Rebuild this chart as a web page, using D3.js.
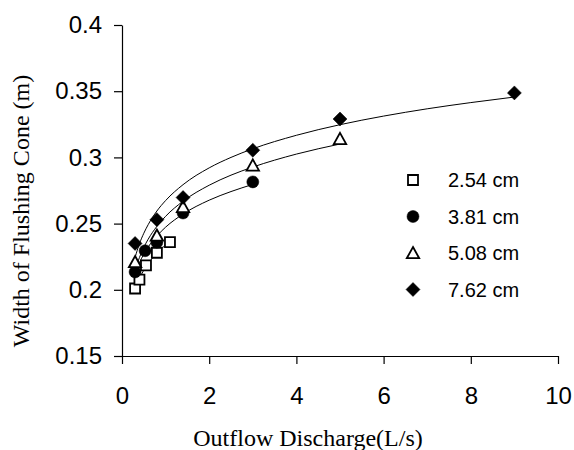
<!DOCTYPE html>
<html>
<head>
<meta charset="utf-8">
<script src="https://cdn.jsdelivr.net/npm/d3@7"></script>
<style>
  body { margin: 0; background: #fff; }
  svg { display: block; }
</style>
</head>
<body>
<svg id="svg"></svg>
<script>
// observed points, one array per tube diameter
var q254 = [0.3, 0.4, 0.55, 0.8, 1.1];
var w254 = [0.201, 0.2077, 0.2185, 0.228, 0.236];
var q381 = [0.3, 0.53, 0.8, 1.4, 3.0];
var w381 = [0.2135, 0.2295, 0.236, 0.258, 0.2815];
var q508 = [0.3, 0.8, 1.4, 3.0, 5.0];
var w508 = [0.221, 0.241, 0.2626, 0.294, 0.314];
var q762 = [0.3, 0.8, 1.4, 3.0, 5.0, 9.0];
var w762 = [0.235, 0.253, 0.2697, 0.3054, 0.329, 0.3487];

// trend curves
var tq254 = [0.3, 0.4, 0.5, 0.6, 0.8, 1.0, 1.1];
var tw254 = [0.2008, 0.2087, 0.2148, 0.2198, 0.2277, 0.2338, 0.2364];
var tq381 = [0.3, 0.4, 0.5, 0.6, 0.8, 1.0, 1.4, 2.0, 2.5, 3.0];
var tw381 = [0.2119, 0.2204, 0.2269, 0.2323, 0.2407, 0.2473, 0.2572, 0.2677, 0.2742, 0.2796];
var tq508 = [0.3, 0.4, 0.5, 0.6, 0.8, 1.0, 1.4, 2.0, 2.5, 3.0, 4.0, 5.0];
var tw508 = [0.2147, 0.2244, 0.232, 0.2382, 0.2479, 0.2555, 0.2669, 0.279, 0.2866, 0.2927, 0.3025, 0.3101];
var tq762 = [0.3, 0.4, 0.5, 0.6, 0.8, 1.0, 1.4, 2.0, 2.5, 3.0, 4.0, 5.0, 6.0, 7.0, 8.0, 9.0];
var tw762 = [0.2245, 0.2348, 0.2427, 0.2492, 0.2595, 0.2674, 0.2794, 0.2921, 0.300, 0.3065, 0.3167, 0.3247, 0.3312, 0.3367, 0.3414, 0.3456];

var seriesNames = ["2.54 cm", "3.81 cm", "5.08 cm", "7.62 cm"];
var xTicks = [0, 2, 4, 6, 8, 10];
var yTicks = [0.15, 0.2, 0.25, 0.3, 0.35, 0.4];

var width = 436, height = 331;
var margin = {top: 25, left: 122};

var svg = d3.select("#svg").attr("width", 574).attr("height", 450);

var xScale = d3.scaleLinear().domain([0, 10]).range([0, width]);
var yScale = d3.scaleLinear().domain([0.15, 0.4]).range([height, 0]);

var g = svg.append("g").attr("transform", `translate(${margin.left}, ${margin.top})`);

function zip(xs, ys) { return xs.map((x, i) => ({x: x, y: ys[i]})); }

var line = d3.line().x(d => xScale(d.x)).y(d => yScale(d.y)).curve(d3.curveMonotoneX);

[[tq254, tw254], [tq381, tw381], [tq508, tw508], [tq762, tw762]].forEach(t => {
    g.append("path")
        .datum(zip(t[0], t[1]))
        .attr("fill", "none")
        .attr("stroke", "#000")
        .attr("stroke-width", 1)
        .attr("d", line);
});

// marker shapes
function shapePath(kind) {
    if (kind == 0) return "M-5,-5H5V5H-5Z";
    if (kind == 1) return d3.symbol().type(d3.symbolCircle).size(Math.PI * 36)();
    if (kind == 2) return "M0,-6L6.2,5.2H-6.2Z";
    return "M0,-7L7,0L0,7L-7,0Z";
}
function styleMarker(sel, kind) {
    sel.attr("d", shapePath(kind))
        .attr("fill", (kind == 0 || kind == 2) ? "#fff" : "#000")
        .attr("stroke", "#000")
        .attr("stroke-width", (kind == 0 || kind == 2) ? 1.8 : 0.5)
        .attr("stroke-linejoin", "miter");
}

var pts = [[q254, w254], [q381, w381], [q508, w508], [q762, w762]];
pts.forEach((p, k) => {
    g.append("g").selectAll("path")
        .data(zip(p[0], p[1]))
        .join("path")
        .attr("transform", d => `translate(${xScale(d.x)}, ${yScale(d.y)})`)
        .call(styleMarker, k);
});

// axes
var xAxis = g.append("g")
    .attr("transform", `translate(0, ${height})`)
    .call(d3.axisBottom(xScale).tickValues(xTicks).tickFormat(d3.format("d"))
        .tickSize(8).tickSizeOuter(0).tickPadding(23));
var yAxis = g.append("g")
    .call(d3.axisLeft(yScale).tickValues(yTicks).tickFormat(d => String(+d.toFixed(2)))
        .tickSize(8).tickSizeOuter(0).tickPadding(12));

[xAxis, yAxis].forEach(a => {
    a.selectAll("path, line").attr("stroke", "#000").attr("stroke-width", 1.2);
    a.selectAll("text").attr("fill", "#000")
        .style("font-family", "'Liberation Sans', Arial, sans-serif")
        .style("font-size", "24px");
});

// legend
var legend = svg.append("g").attr("transform", "translate(413, 180)");
seriesNames.forEach((name, k) => {
    var row = legend.append("g").attr("transform", `translate(0, ${k * 36.5})`);
    row.append("path").call(styleMarker, k);
    row.append("text")
        .attr("x", 35)
        .attr("y", 0)
        .attr("dominant-baseline", "central")
        .style("font-family", "'Liberation Sans', Arial, sans-serif")
        .style("font-size", "20px")
        .text(name);
});

// axis titles
svg.append("text")
    .attr("x", margin.left + 186)
    .attr("y", 446)
    .attr("text-anchor", "middle")
    .style("font-family", "'Liberation Serif', 'Times New Roman', serif")
    .style("font-size", "24px")
    .text("Outflow Discharge(L/s)");

svg.append("text")
    .attr("transform", "translate(21, 211) rotate(-90)")
    .attr("text-anchor", "middle")
    .attr("dominant-baseline", "central")
    .style("font-family", "'Liberation Serif', 'Times New Roman', serif")
    .style("font-size", "24px")
    .text("Width of Flushing Cone (m)");
</script>
</body>
</html>
